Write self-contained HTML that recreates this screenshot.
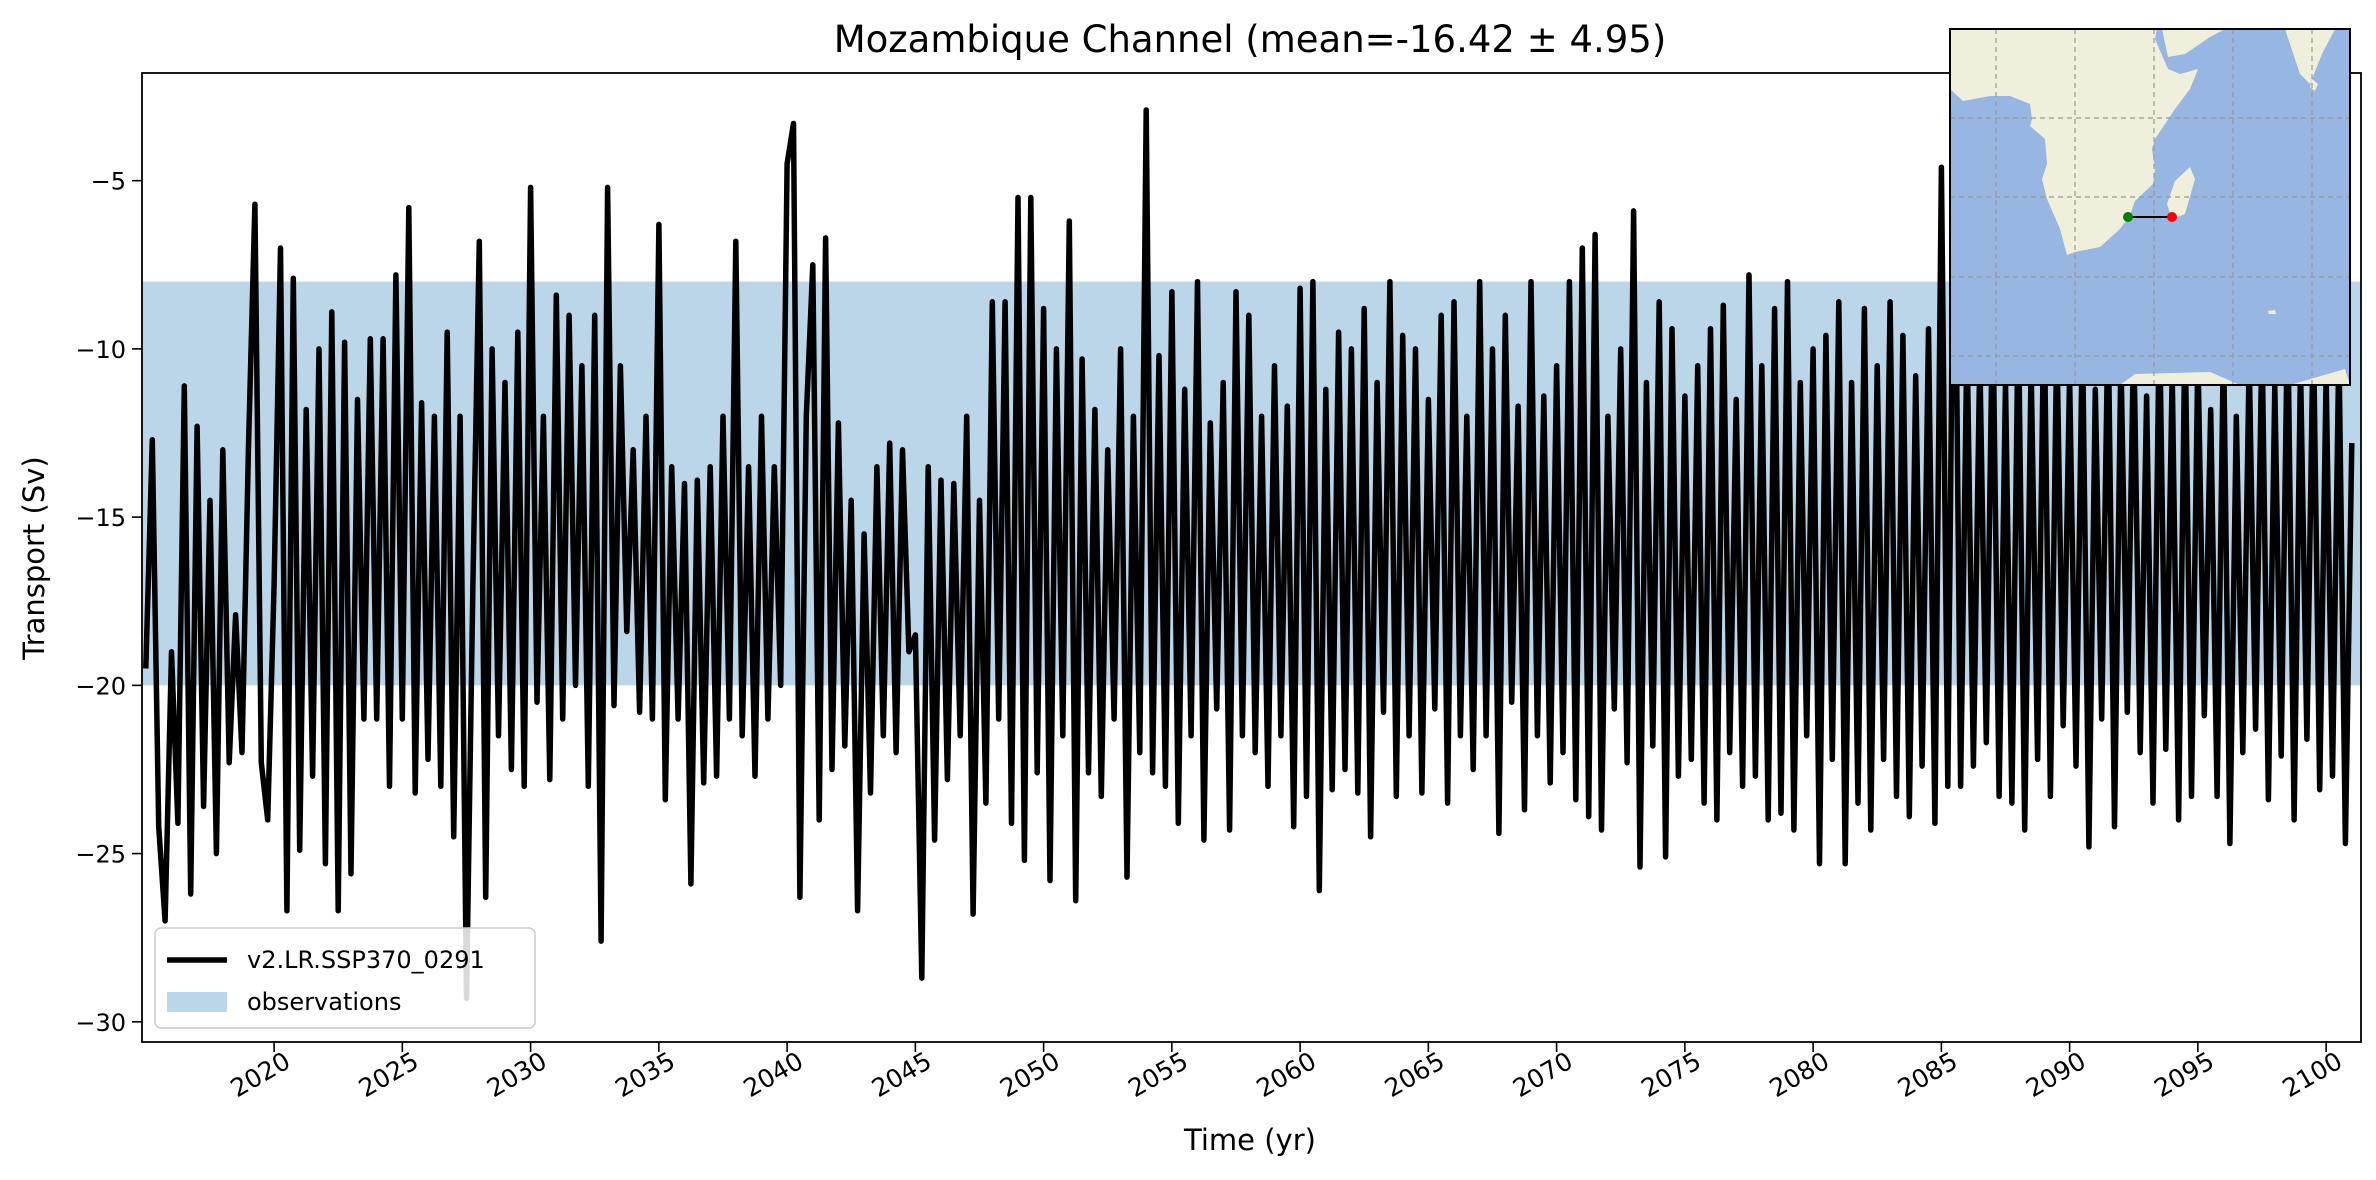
<!DOCTYPE html>
<html><head><meta charset="utf-8"><style>
body{margin:0;background:#fff;}
svg{display:block;font-family:"DejaVu Sans","Liberation Sans",sans-serif;}
</style></head><body>
<svg id="chart" width="2376" height="1180" viewBox="0 0 2376 1180" xmlns="http://www.w3.org/2000/svg">
<rect width="2376" height="1180" fill="#fff"/>
<text x="1250" y="52" font-size="37" text-anchor="middle">Mozambique Channel (mean=-16.42 ± 4.95)</text>
<g id="plot"></g>
<text x="1250" y="1150" font-size="29" text-anchor="middle">Time (yr)</text>
<text transform="translate(44,558) rotate(-90)" font-size="29" text-anchor="middle">Transport (Sv)</text>
</svg>
<script>
const startYear = 2015.0;
const stepYears = 0.25;
const transport = [
-19.5,-12.7,-24.2,-27.0, -19.0,-24.1,-11.1,-26.2, -12.3,-23.6,-14.5,-25.0, -13.0,-22.3,-17.9,-22.0, -13.0,-5.7,-22.3,-24.0,
-17.0,-7.0,-26.7,-7.9, -24.9,-11.8,-22.7,-10.0, -25.3,-8.9,-26.7,-9.8, -25.6,-11.5,-21.0,-9.7, -21.0,-9.7,-23.0,-7.8,
-21.0,-5.8,-23.2,-11.6, -22.2,-12.0,-23.0,-9.5, -24.5,-12.0,-29.3,-17.0, -6.8,-26.3,-10.0,-21.5, -11.0,-22.5,-9.5,-23.0,
-5.2,-20.5,-12.0,-22.8, -8.4,-21.0,-9.0,-20.0, -10.5,-23.0,-9.0,-27.6, -5.2,-20.6,-10.5,-18.4, -13.0,-20.8,-12.0,-21.0,
-6.3,-23.4,-13.5,-21.0, -14.0,-25.9,-13.9,-22.9, -13.5,-22.7,-12.0,-21.0, -6.8,-21.5,-13.5,-22.7, -12.0,-21.0,-13.5,-20.0,
-4.5,-3.3,-26.3,-12.0, -7.5,-24.0,-6.7,-22.5, -12.2,-21.8,-14.5,-26.7, -15.5,-23.2,-13.5,-21.5, -12.8,-22.0,-13.0,-19.0,
-18.5,-28.7,-13.5,-24.6, -13.9,-22.8,-14.0,-21.5, -12.0,-26.8,-14.5,-23.5, -8.6,-21.0,-8.6,-24.1, -5.5,-25.2,-5.5,-22.6,
-8.8,-25.8,-10.0,-21.5, -6.2,-26.4,-10.3,-22.6, -11.8,-23.3,-13.0,-21.0, -10.0,-25.7,-12.0,-22.0, -2.9,-22.6,-10.2,-23.0,
-8.3,-24.1,-11.2,-21.5, -8.0,-24.6,-12.2,-20.7, -11.0,-24.3,-8.3,-21.5, -9.0,-22.0,-12.0,-23.0, -10.5,-21.5,-11.7,-24.2,
-8.2,-23.3,-8.0,-26.1, -11.2,-23.1,-9.5,-22.5, -10.0,-23.2,-8.8,-24.5, -11.0,-20.8,-8.0,-23.3, -9.6,-21.5,-10.0,-23.2,
-11.5,-20.7,-9.0,-23.5, -8.6,-21.5,-12.0,-22.5, -8.0,-21.5,-10.0,-24.4, -9.0,-20.5,-11.7,-23.7, -8.0,-21.5,-11.4,-22.9,
-10.5,-22.0,-8.0,-23.4, -7.0,-23.9,-6.6,-24.3, -12.0,-20.7,-10.0,-22.3, -5.9,-25.4,-11.0,-21.8, -8.6,-25.1,-9.4,-22.7,
-11.4,-22.2,-10.5,-23.5, -9.4,-24.0,-8.7,-22.0, -11.5,-23.0,-7.8,-22.7, -10.5,-24.0,-8.8,-23.8, -8.0,-24.3,-11.0,-21.5,
-10.0,-25.3,-9.6,-22.2, -8.6,-25.3,-11.0,-23.5, -8.8,-24.3,-10.5,-22.2, -8.6,-23.3,-9.6,-23.9, -10.8,-22.4,-9.4,-24.1,
-4.6,-23.0,-3.0,-23.0, -9.6,-22.4,-10.2,-21.7, -8.5,-23.3,-11.0,-23.5, -8.8,-24.3,-10.5,-22.2, -8.6,-23.3,-9.6,-21.2,
-10.8,-22.4,-9.4,-24.8, -11.2,-21.0,-9.0,-24.2, -10.2,-20.8,-9.5,-22.0, -11.4,-23.5,-8.9,-21.9, -10.7,-24.0,-9.3,-23.3,
-10.1,-20.9,-11.8,-23.3, -9.7,-24.7,-12.0,-22.0, -10.3,-21.3,-9.6,-23.4, -11.1,-22.1,-8.8,-24.0, -10.5,-21.6,-9.2,-23.1,
-10.8,-22.7,-9.9,-24.7, -12.8
];
const yTicks = [-5,-10,-15,-20,-25,-30];
const xTicks = [2020,2025,2030,2035,2040,2045,2050,2055,2060,2065,2070,2075,2080,2085,2090,2095,2100];
const obsRange = [-20,-8];
const seriesLabel = "v2.LR.SSP370_0291";

const L=142,R=2361,T=73,B=1042;
const x0=2014.85,x1=2101.36,yTop=-1.8,yBot=-30.6;
const xs=v=>L+(v-x0)/(x1-x0)*(R-L);
const ys=v=>T+(v-yTop)/(yBot-yTop)*(B-T);
const NS="http://www.w3.org/2000/svg";
const g=document.getElementById('plot');
function mk(tag,attrs,parent){const e=document.createElementNS(NS,tag);for(const k in attrs)e.setAttribute(k,attrs[k]);(parent||g).appendChild(e);return e;}

const clip=mk('clipPath',{id:'pc'});mk('rect',{x:L,y:T,width:R-L,height:B-T},clip);
const band=mk('rect',{x:L,y:ys(obsRange[1]),width:R-L,height:ys(obsRange[0])-ys(obsRange[1]),fill:'#bad6e8'});



let d='';
transport.forEach((v,i)=>{d+=(i?'L':'M')+xs(startYear+i*stepYears).toFixed(1)+','+ys(v).toFixed(1);});
const line=mk('path',{d:d,fill:'none',stroke:'#000','stroke-width':5.5,'stroke-linejoin':'round','clip-path':'url(#pc)'});



yTicks.forEach(t=>{
  const y=ys(t);
  mk('line',{x1:L-10,x2:L,y1:y,y2:y,stroke:'#000','stroke-width':1.6});
  const tx=mk('text',{x:L-16,y:y+9,'font-size':24,'text-anchor':'end'});tx.textContent='\u2212'+Math.abs(t);
  
  
});
xTicks.forEach(t=>{
  const x=xs(t);
  mk('line',{x1:x,x2:x,y1:B,y2:B+10,stroke:'#000','stroke-width':1.6});
  const tx=mk('text',{x:0,y:0,'font-size':25,'text-anchor':'end',transform:`translate(${x+18},${B+24}) rotate(-30)`});tx.textContent=t;
  
  
});
mk('rect',{x:L,y:T,width:R-L,height:B-T,fill:'none',stroke:'#000','stroke-width':1.8});

// legend
const lg=mk('g',{});


mk('rect',{x:155,y:928,width:380,height:100,rx:6,fill:'#fff','fill-opacity':0.85,stroke:'#ccc','stroke-width':1.5},lg);
mk('line',{x1:167,x2:227,y1:960,y2:960,stroke:'#000','stroke-width':5.5},lg);
const l1=mk('text',{x:247,y:968,'font-size':24},lg);l1.textContent=seriesLabel;


mk('rect',{x:167,y:992,width:60,height:20,fill:'#bad6e8'},lg);
const l2=mk('text',{x:247,y:1010,'font-size':24},lg);l2.textContent='observations';



// map inset
const m=mk('g',{transform:'translate(1950,29)'});


const mc=mk('clipPath',{id:'mc'});mk('rect',{x:0,y:0,width:400,height:356},mc);
const mg=mk('g',{'clip-path':'url(#mc)'},m);
mk('rect',{x:0,y:0,width:400,height:356,fill:'#97b6e1'},mg);
const land='#efefdb';
mk('path',{fill:land,d:'M0,0 L0,60 L13,72 L40,67 L60,67 L80,75 L82,90 L80,97 L95,110 L97,135 L92,150 L97,170 L110,200 L117,226 L125,223 L150,218 L170,200 L180,186 L185,172 L203,155 L205,140 L202,120 L205,110 L225,80 L240,60 L248,40 L230,45 L218,40 L205,10 L207,0 Z'},mg);
mk('path',{fill:land,d:'M212,0 L218,28 L235,25 L260,8 L275,0 Z'},mg);
mk('path',{fill:land,d:'M225,152 L240,138 L245,150 L235,185 L222,190 L217,175 Z'},mg);
mk('path',{fill:land,d:'M335,0 L350,45 L360,55 L372,25 L385,0 Z'},mg);
mk('path',{fill:land,d:'M362,50 L368,55 L365,62 L360,58 Z'},mg);
mk('path',{fill:land,d:'M170,356 L185,345 L260,343 L290,356 Z M340,356 L395,340 L400,356 Z'},mg);
mk('path',{fill:land,d:'M318,282 L325,281 L326,285 L319,285 Z'},mg);
[46,125,204,283,362].forEach(x=>mk('line',{x1:x,x2:x,y1:0,y2:356,stroke:'#999','stroke-width':1.2,'stroke-dasharray':'5,4'},mg));
[89,168,248,327].forEach(y=>mk('line',{x1:0,x2:400,y1:y,y2:y,stroke:'#999','stroke-width':1.2,'stroke-dasharray':'5,4'},mg));
mk('line',{x1:178,x2:222,y1:188,y2:188,stroke:'#000','stroke-width':2},mg);
mk('circle',{cx:178,cy:188,r:5,fill:'green'},mg);
mk('circle',{cx:222,cy:188,r:5,fill:'red'},mg);
mk('rect',{x:0,y:0,width:400,height:356,fill:'none',stroke:'#000','stroke-width':2},m);
</script>
</body></html>
